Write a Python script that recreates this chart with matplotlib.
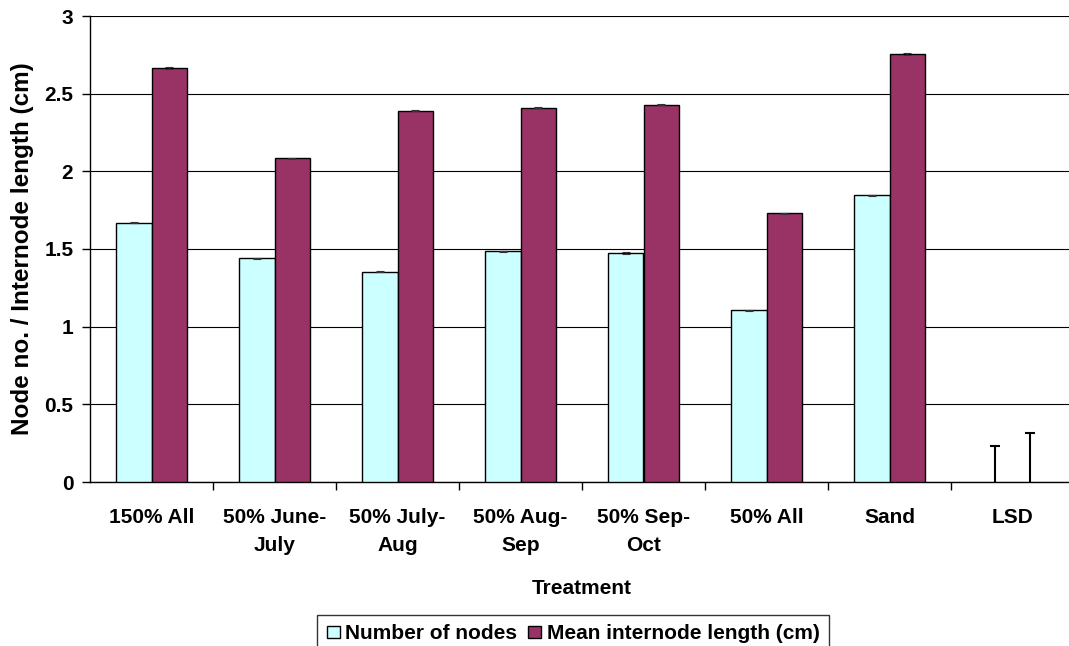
import numpy as np
import matplotlib.pyplot as plt

plt.rcParams['font.family'] = ['Liberation Sans', 'DejaVu Sans']
plt.rcParams['font.weight'] = 'bold'

treatments = ['150% All', '50% June-\nJuly', '50% July-\nAug', '50% Aug-\nSep',
              '50% Sep-\nOct', '50% All', 'Sand', 'LSD']
nodes = [1.67, 1.44, 1.355, 1.485, 1.475, 1.105, 1.845]
internode = [2.665, 2.085, 2.39, 2.41, 2.43, 1.73, 2.755]
lsd = [0.23, 0.315]

fig = plt.figure(figsize=(10.69, 6.46), dpi=100)
ax = fig.add_axes([90/1069, 1 - 482/646, 984/1069, 466/646])

w = 0.29
x = np.arange(len(nodes))
ax.bar(x - w/2, nodes, w, color='#CCFFFF', edgecolor='black', linewidth=1,
       label='Number of nodes', zorder=3)
ax.bar(x + w/2, internode, w, color='#993366', edgecolor='black', linewidth=1,
       label='Mean internode length (cm)', zorder=3)
# tiny error caps sitting on each bar
ax.errorbar(np.concatenate([x - w/2, x + w/2]), nodes + internode, yerr=0.004,
            fmt='none', ecolor='#333333', elinewidth=0.8, capsize=3, capthick=0.8, zorder=4)

# LSD drawn as a single line from zero with a cap
k = len(nodes)
lsd_x = [k - w/2, k + w/2]
ax.vlines(lsd_x, 0, lsd, color='black', linewidth=1.5, zorder=4)
ax.scatter(lsd_x, lsd, marker='_', s=60, color='black', linewidths=1.5, zorder=4)

ax.set_xlim(-0.5, len(treatments) - 0.5)
ax.set_ylim(0, 3)
ax.set_yticks(np.arange(0, 3.01, 0.5))
ax.set_yticklabels(['0', '0.5', '1', '1.5', '2', '2.5', '3'])
ax.yaxis.grid(True, color='black', linewidth=0.8, zorder=0)
ax.set_axisbelow(True)

ax.set_xticks(np.arange(len(treatments)))
ax.set_xticklabels(treatments, linespacing=1.6)
ax.set_xticks(np.arange(len(treatments)) + 0.5, minor=True)
ax.tick_params(axis='x', which='major', length=0, pad=19, labelsize=15)
ax.tick_params(axis='x', which='minor', length=6, width=1, direction='out')
ax.tick_params(axis='y', length=6, width=1, direction='out', labelsize=15, pad=6)

for s in ['top', 'right']:
    ax.spines[s].set_visible(False)
ax.spines['left'].set_linewidth(1)
ax.spines['bottom'].set_linewidth(1)

ax.set_xlabel('Treatment', fontsize=15, fontweight='bold', labelpad=17)
ax.set_ylabel('Node no. / Internode length (cm)', fontsize=17.5, fontweight='bold', labelpad=7)

leg = fig.legend(loc='upper center', bbox_to_anchor=(573/1069, 1 - 615/646), ncol=2,
                 frameon=True, fancybox=False, edgecolor='black', fontsize=15,
                 handlelength=0.65, handleheight=0.55, handletextpad=0.25,
                 columnspacing=0.5, borderpad=0.45, borderaxespad=0)
leg.get_frame().set_linewidth(1)

fig.savefig('out.png', dpi=100)
